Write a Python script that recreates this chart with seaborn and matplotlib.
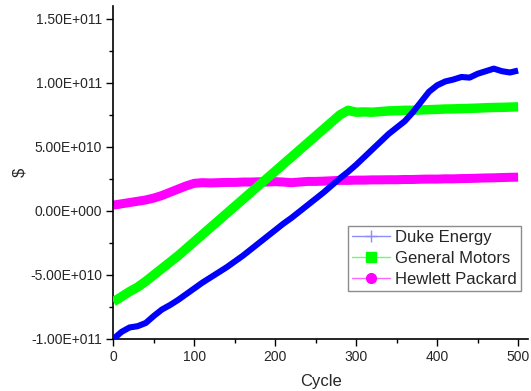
import numpy as np
import pandas as pd
import matplotlib
matplotlib.use('Agg')
import matplotlib.pyplot as plt
import matplotlib.ticker as ticker
from matplotlib.lines import Line2D
import seaborn as sns

# cycles sampled every 10 steps, values in units of 1e10 $
cycle = list(range(0, 501, 10))

duke = [-10.0, -9.45, -9.1, -9.0, -8.75, -8.2, -7.7, -7.35, -6.95, -6.5,
        -6.05, -5.6, -5.2, -4.8, -4.4, -3.95, -3.5, -3.0, -2.5, -2.0,
        -1.5, -1.0, -0.55, -0.05, 0.45, 0.95, 1.45, 2.0, 2.55, 3.05,
        3.6, 4.2, 4.8, 5.4, 6.0, 6.5, 7.0, 7.7, 8.5, 9.3,
        9.8, 10.1, 10.25, 10.45, 10.4, 10.7, 10.9, 11.1, 10.9, 10.8,
        10.95]
gm = [-7.1, -6.7, -6.3, -5.95, -5.5, -5.0, -4.5, -4.0, -3.5, -2.95,
      -2.4, -1.85, -1.3, -0.75, -0.2, 0.35, 0.9, 1.45, 2.0, 2.55,
      3.1, 3.65, 4.2, 4.75, 5.3, 5.85, 6.4, 6.95, 7.5, 7.85,
      7.7, 7.72, 7.7, 7.75, 7.8, 7.82, 7.85, 7.85, 7.88, 7.9,
      7.92, 7.95, 7.96, 7.98, 8.0, 8.02, 8.05, 8.07, 8.08, 8.1,
      8.12]
hp = [0.45, 0.55, 0.65, 0.75, 0.85, 1.0, 1.2, 1.45, 1.7, 1.95,
      2.15, 2.2, 2.18, 2.2, 2.22, 2.22, 2.25, 2.25, 2.27, 2.25,
      2.28, 2.25, 2.2, 2.25, 2.3, 2.3, 2.32, 2.35, 2.38, 2.38,
      2.4, 2.4, 2.42, 2.42, 2.43, 2.43, 2.45, 2.45, 2.47, 2.48,
      2.48, 2.5, 2.5, 2.52, 2.53, 2.55, 2.57, 2.58, 2.6, 2.62,
      2.63]

names = ['Duke Energy', 'General Motors', 'Hewlett Packard']
colors = ['#0000ff', '#00ff00', '#ff00ff']
light = ['#8c8cff', '#66ff66', '#ff66ff']
markers = ['+', 's', 'o']
widths = [4.4, 6.8, 6.5]
zorders = [4, 3, 2]

sns.set_style('ticks')
plt.rcParams['font.family'] = ['Liberation Sans', 'DejaVu Sans']

fig = plt.figure(figsize=(5.31, 3.91), dpi=100)
ax = fig.add_axes([0.2135, 0.133, 0.7805, 0.852])

for name, vals, c, lw, z in zip(names, [duke, gm, hp], colors, widths, zorders):
    df = pd.DataFrame({'Cycle': cycle, 'Value': np.array(vals) * 1e10})
    sns.lineplot(data=df, x='Cycle', y='Value', color=c, linewidth=lw,
                 solid_capstyle='butt', zorder=z, ax=ax)

ax.set_xlim(0, 512)
ax.set_ylim(-1.0e11, 1.60e11)
ax.xaxis.set_major_locator(ticker.MultipleLocator(100))
ax.xaxis.set_minor_locator(ticker.MultipleLocator(50))
ax.yaxis.set_major_locator(ticker.MultipleLocator(5e10))
ax.yaxis.set_minor_locator(ticker.MultipleLocator(2.5e10))

def sci(v, pos):
    if v == 0:
        return '0.00E+000'
    e = int(np.floor(np.log10(abs(v))))
    m = v / 10 ** e
    return '%.2fE+%03d' % (m, e)

ax.yaxis.set_major_formatter(ticker.FuncFormatter(sci))
ax.tick_params(which='major', length=5, width=1, direction='out',
               labelsize=10, pad=3, color='black')
ax.tick_params(which='minor', length=3, width=1, direction='out', color='black')
sns.despine(ax=ax)
for s in ['left', 'bottom']:
    ax.spines[s].set_linewidth(1.2)
    ax.spines[s].set_color('black')

ax.set_xlabel('Cycle', fontsize=12, labelpad=7)
ax.set_ylabel('$', fontsize=12, labelpad=2)

handles = [Line2D([], [], color=lc, lw=1, marker=m, markersize=7,
                  markerfacecolor=c if m != '+' else lc,
                  markeredgecolor=c if m != '+' else lc, markeredgewidth=1)
           for lc, c, m in zip(light, colors, markers)]
handles[0].set_markersize(9)
leg = ax.legend(handles, names, loc='lower right', bbox_to_anchor=(0.984, 0.144),
                borderaxespad=0, fontsize=12, frameon=True, fancybox=False,
                handlelength=2.3, handletextpad=0.3, labelspacing=0.36,
                borderpad=0.25)
leg.get_frame().set_edgecolor('#707070')
leg.get_frame().set_linewidth(1)

fig.savefig('out.png', dpi=100)
